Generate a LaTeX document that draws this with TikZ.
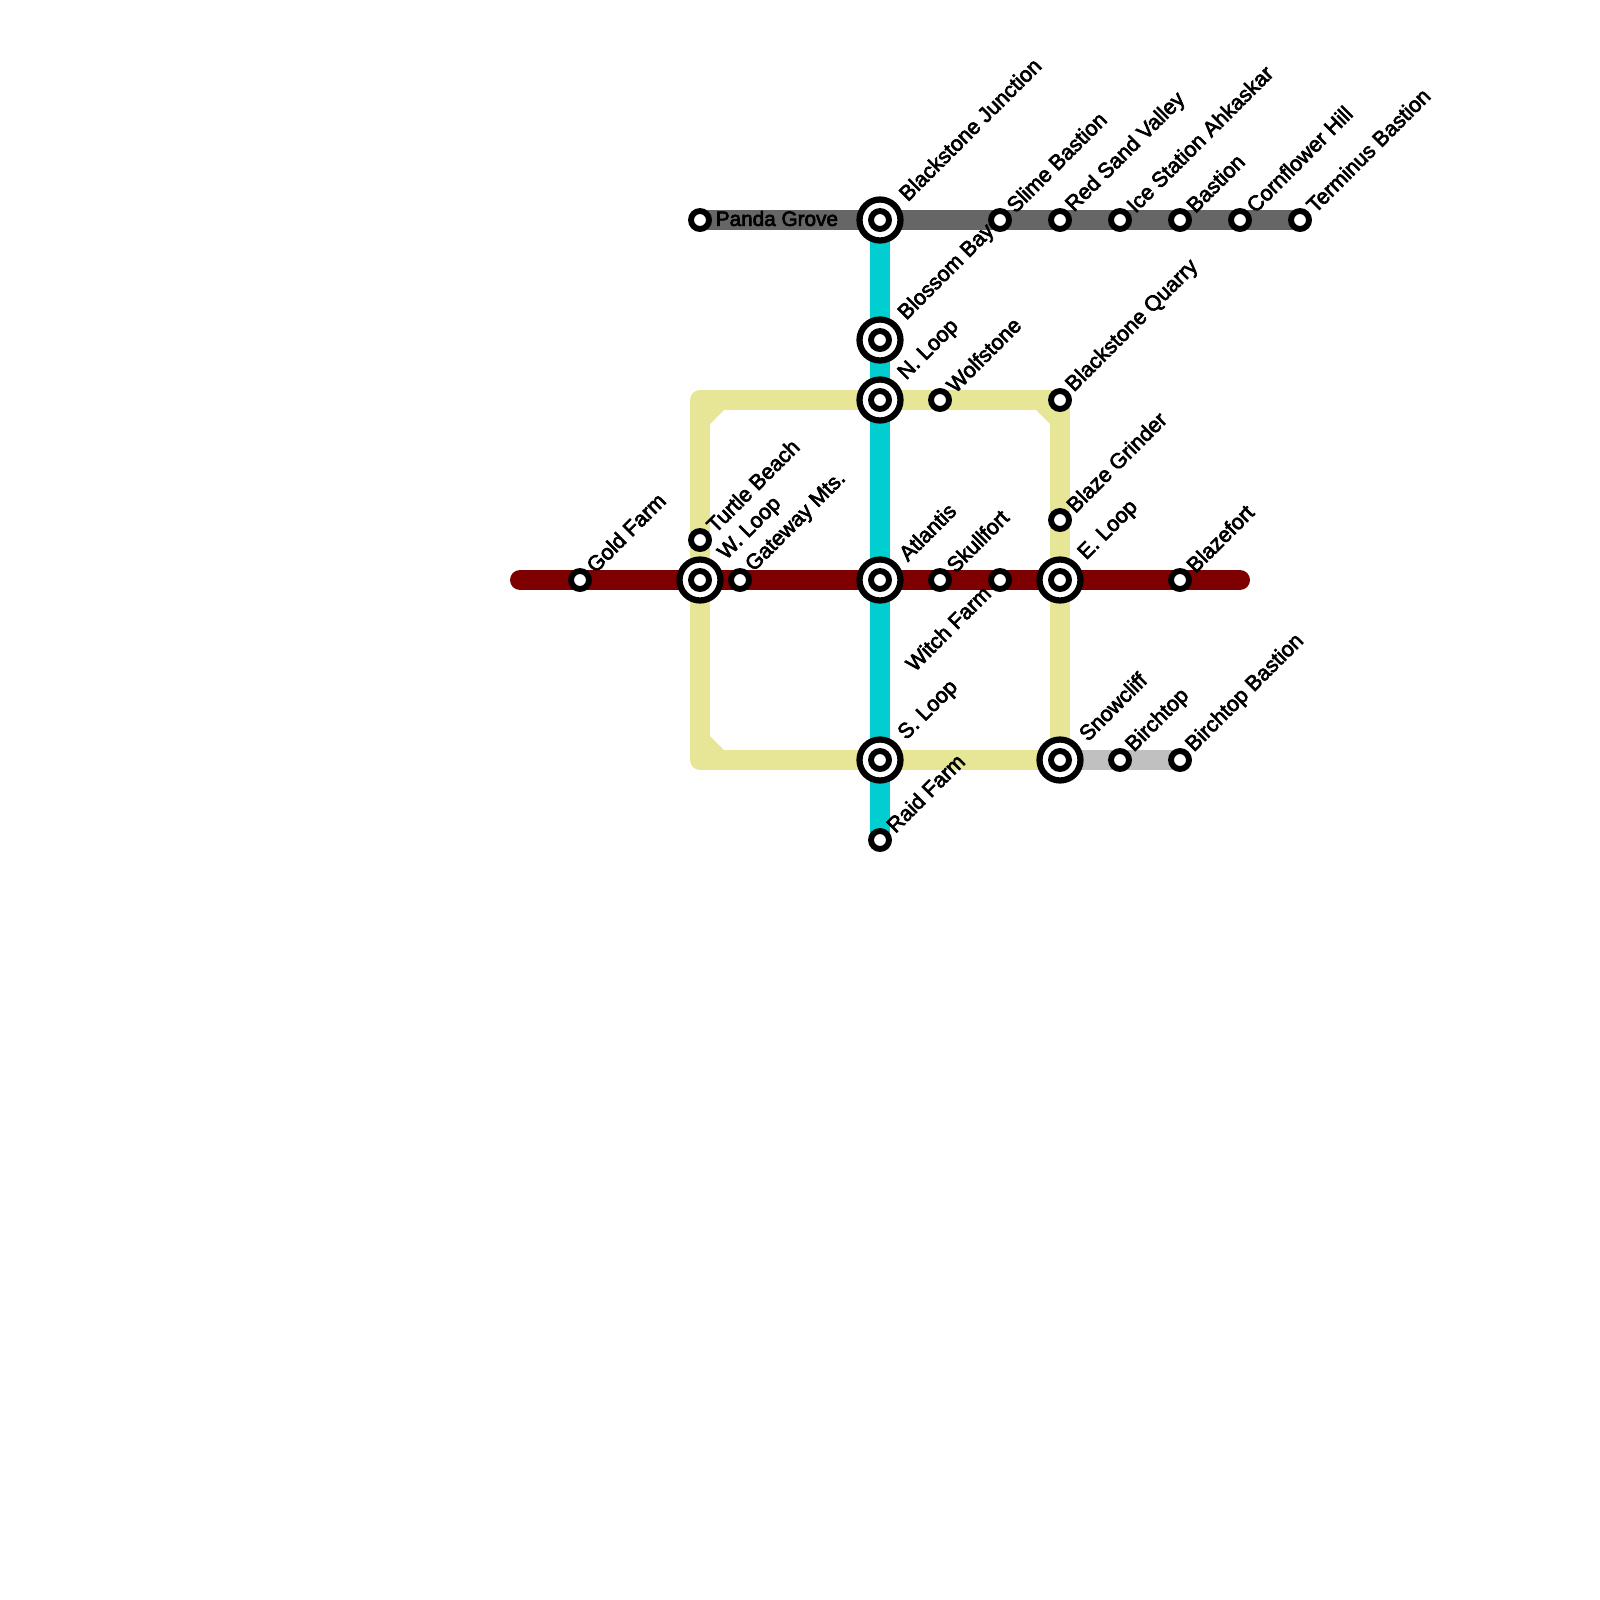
\documentclass[tikz,border=0pt]{standalone}
\usepackage{fontspec}
\usepackage{xcolor}
\usetikzlibrary{backgrounds}
\newfontfamily\stopfont[FakeBold=3]{Liberation Sans}
\definecolor{darkred}{RGB}{126,0,0}
\definecolor{softyellow}{RGB}{230,230,150}
\definecolor{brightcyan}{RGB}{0,206,209}
\definecolor{darkgrey}{RGB}{102,102,102}
\definecolor{softgrey}{RGB}{192,192,192}

\begin{document}
\begin{tikzpicture}[
x=0.02cm, y=-0.02cm,
stop/.style={circle, draw=black, fill=white, line width=0.118cm, inner sep=0pt, minimum size=0.36cm},
hub/.style={circle, draw=black, fill=white, line width=0.125cm, inner sep=0pt, minimum size=0.82cm,
  path picture={\draw[black, line width=0.118cm] (path picture bounding box.center) circle (0.18cm);}},
lab/.style={font=\stopfont\fontsize{12.2pt}{14pt}\selectfont, inner sep=0pt, anchor=west},
stoplab/.style={lab, rotate=45, xshift=0.30cm, yshift=0.02cm},
hublab/.style={lab, rotate=45, xshift=0.64cm, yshift=0.01cm},
route/.style={line width=0.4cm, line cap=butt, line join=round}
]
\useasboundingbox (0,0) rectangle (1600,1600);

\coordinate (redwest) at (520,580);
\coordinate (redeast) at (1240,580);
\coordinate (cornernw) at (700,400);
\coordinate (cornersw) at (700,760);

\node[stop] (pandagrove) at (700,220) {};
\node[hub] (blackstonejct) at (880,220) {};
\node[stop] (slimebastion) at (1000,220) {};
\node[stop] (redsand) at (1060,220) {};
\node[stop] (icestation) at (1120,220) {};
\node[stop] (bastion) at (1180,220) {};
\node[stop] (cornflower) at (1240,220) {};
\node[stop] (terminus) at (1300,220) {};
\node[hub] (blossombay) at (880,340) {};
\node[hub] (nloop) at (880,400) {};
\node[stop] (wolfstone) at (940,400) {};
\node[stop] (quarry) at (1060,400) {};
\node[stop] (turtlebeach) at (700,540) {};
\node[stop] (blazegrinder) at (1060,520) {};
\node[stop] (goldfarm) at (580,580) {};
\node[hub] (wloop) at (700,580) {};
\node[stop] (gateway) at (740,580) {};
\node[hub] (atlantis) at (880,580) {};
\node[stop] (skullfort) at (940,580) {};
\node[stop] (witchfarm) at (1000,580) {};
\node[hub] (eloop) at (1060,580) {};
\node[stop] (blazefort) at (1180,580) {};
\node[hub] (sloop) at (880,760) {};
\node[hub] (snowcliff) at (1060,760) {};
\node[stop] (birchtop) at (1120,760) {};
\node[stop] (birchtopb) at (1180,760) {};
\node[stop] (raidfarm) at (880,840) {};

\node[lab, font=\stopfont\fontsize{11.8pt}{14pt}\selectfont, xshift=0.31cm, yshift=0.03cm] (pandagrovel) at (pandagrove) {Panda Grove};
\node[hublab] (blackstonejctl) at (blackstonejct) {Blackstone Junction};
\node[stoplab] (slimebastionl) at (slimebastion) {Slime Bastion};
\node[stoplab] (redsandl) at (redsand) {Red Sand Valley};
\node[stoplab] (icestationl) at (icestation) {Ice Station Ahkaskar};
\node[stoplab] (bastionl) at (bastion) {Bastion};
\node[stoplab] (cornflowerl) at (cornflower) {Cornflower Hill};
\node[stoplab] (terminusl) at (terminus) {Terminus Bastion};
\node[hublab] (blossombayl) at (blossombay) {Blossom Bay};
\node[hublab] (nloopl) at (nloop) {N. Loop};
\node[stoplab] (wolfstonel) at (wolfstone) {Wolfstone};
\node[stoplab] (quarryl) at (quarry) {Blackstone Quarry};
\node[stoplab] (turtlebeachl) at (turtlebeach) {Turtle Beach};
\node[stoplab] (blazegrinderl) at (blazegrinder) {Blaze Grinder};
\node[stoplab] (goldfarml) at (goldfarm) {Gold Farm};
\node[hublab] (wloopl) at (wloop) {W. Loop};
\node[stoplab] (gatewayl) at (gateway) {Gateway Mts.};
\node[hublab] (atlantisl) at (atlantis) {Atlantis};
\node[stoplab] (skullfortl) at (skullfort) {Skullfort};
\node[lab, anchor=east, rotate=45, xshift=-0.315cm, yshift=0.05cm] (witchfarml) at (witchfarm) {Witch Farm};
\node[hublab] (eloopl) at (eloop) {E. Loop};
\node[stoplab] (blazefortl) at (blazefort) {Blazefort};
\node[hublab] (sloopl) at (sloop) {S. Loop};
\node[hublab] (snowcliffl) at (snowcliff) {Snowcliff};
\node[stoplab] (birchtopl) at (birchtop) {Birchtop};
\node[stoplab] (birchtopbl) at (birchtopb) {Birchtop Bastion};
\node[stoplab] (raidfarml) at (raidfarm) {Raid Farm};

\begin{scope}[on background layer]
\draw[route, brightcyan] (blackstonejct.center) -- (raidfarm.center);
\draw[route, softyellow] (cornernw) -- (quarry.center) -- (snowcliff.center) -- (cornersw) -- cycle;
\fill[softyellow] (cornernw) ++(10,10) -- ++(14,0) -- ++(-14,14) -- cycle;
\fill[softyellow] (quarry.center) ++(-10,10) -- ++(-14,0) -- ++(14,14) -- cycle;
\fill[softyellow] (cornersw) ++(10,-10) -- ++(14,0) -- ++(-14,-14) -- cycle;
\draw[route, softgrey] (snowcliff.center) -- (birchtopb.center);
\draw[route, darkgrey] (pandagrove.center) -- (terminus.center);
\draw[route, darkred, line cap=round] (redwest) -- (redeast);
\end{scope}
\end{tikzpicture}
\end{document}
